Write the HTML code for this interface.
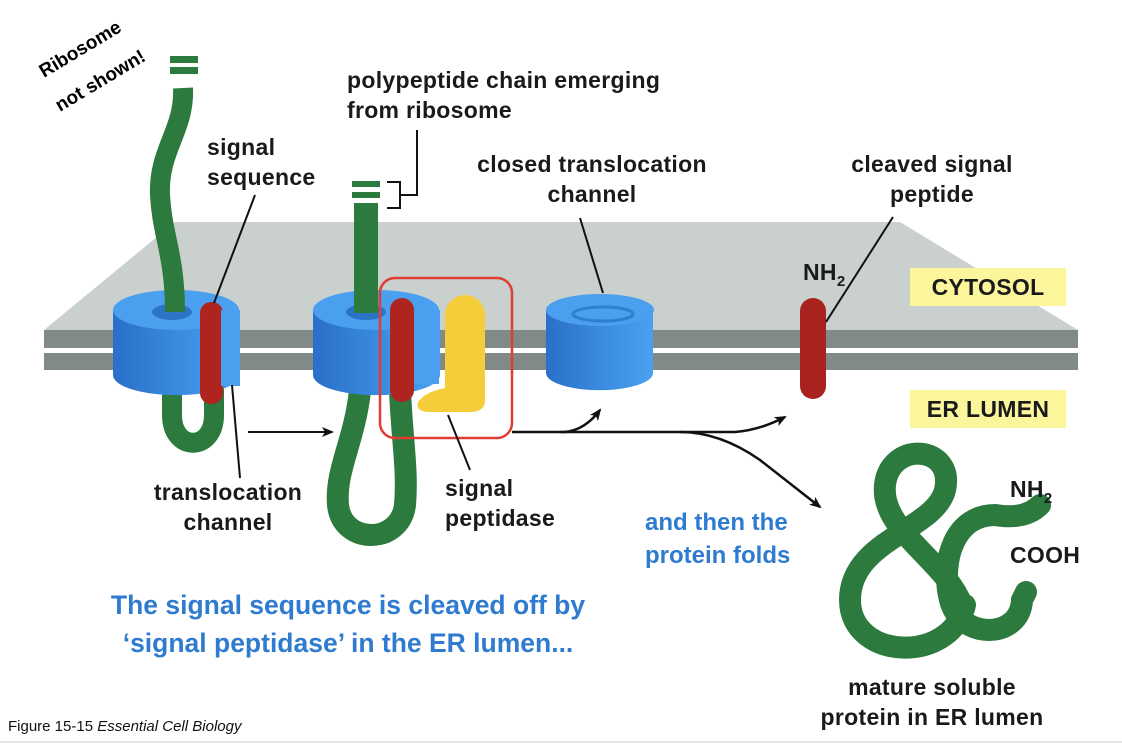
<!DOCTYPE html>
<html><head><meta charset="utf-8"><style>
body{margin:0;background:#fff;}
svg{display:block;font-family:"Liberation Sans",sans-serif;}
.l{font-weight:bold;font-size:23px;fill:#1a1a1a;letter-spacing:0.3px;}
.b{font-weight:bold;fill:#2f7bd0;}
</style></head><body>
<svg width="1122" height="744" viewBox="0 0 1122 744">
<defs>
<linearGradient id="bl" x1="0" x2="1"><stop offset="0" stop-color="#2a6fc8"/><stop offset="0.6" stop-color="#3d8fe3"/><stop offset="1" stop-color="#4aa0ee"/></linearGradient>
<marker id="ah" markerWidth="12" markerHeight="10" refX="10" refY="5" orient="auto" markerUnits="userSpaceOnUse"><path d="M0,0 L12,5 L0,10 L3,5z" fill="#111"/></marker>
</defs>
<!-- membrane -->
<polygon points="44,330 175,222 900,222 1078,330" fill="#c9d0cd"/>
<rect x="44" y="330" width="1034" height="18" fill="#828a88"/>
<rect x="44" y="353" width="1034" height="17" fill="#828a88"/>

<!-- chain 1 lower loop -->
<path d="M172,380 L172,415 C172,452 214,452 214,415 L214,385" stroke="#2d7a3e" stroke-width="20" fill="none"/>
<!-- channel 1 -->
<path d="M113,310 L113,375 A63,20 0 0 0 240,375 L240,310z" fill="url(#bl)"/>
<ellipse cx="176" cy="310" rx="63" ry="20" fill="#4aa0ee"/>
<ellipse cx="172" cy="312" rx="20" ry="8" fill="#2c74c8"/>
<!-- chain 1 upper -->
<path d="M183,88 C185,130 158,150 160,195 C162,235 175,255 175,312" stroke="#2d7a3e" stroke-width="20" fill="none"/>
<g fill="#2d7a3e"><rect x="170" y="56" width="28" height="7"/><rect x="170" y="67" width="28" height="7"/></g>
<rect x="200" y="302" width="23" height="102" rx="11" fill="#b0241f"/>
<rect x="221" y="310" width="19" height="76" fill="#4aa0ee"/>

<!-- chain 2 -->
<g fill="#2d7a3e"><rect x="352" y="181" width="28" height="6"/><rect x="352" y="192" width="28" height="6"/></g>
<path d="M360,390 C355,440 335,470 338,505 C342,545 400,545 405,505 C408,470 402,440 400,390" stroke="#2d7a3e" stroke-width="22" fill="none"/>
<!-- channel 2 -->
<path d="M313,310 L313,375 A63,20 0 0 0 440,375 L440,310z" fill="url(#bl)"/>
<ellipse cx="376" cy="310" rx="63" ry="20" fill="#4aa0ee"/>
<ellipse cx="366" cy="312" rx="20" ry="8" fill="#2c74c8"/>
<rect x="354" y="203" width="24" height="110" fill="#2d7a3e"/>
<rect x="390" y="298" width="24" height="104" rx="12" fill="#b0241f"/>
<rect x="414" y="312" width="25" height="72" fill="#4aa0ee"/>
<!-- yellow -->
<path d="M445,315 A20,20 0 0 1 485,315 L485,400 Q485,412 470,412 L430,412 Q415,412 418,402 Q425,392 445,388z" fill="#f5cd3a"/>
<rect x="380" y="278" width="132" height="160" rx="15" fill="none" stroke="#e03c32" stroke-width="2.5"/>

<!-- channel 3 -->
<path d="M546,310 L546,373 A53,17 0 0 0 653,373 L653,310z" fill="url(#bl)"/>
<ellipse cx="600" cy="310" rx="54" ry="16" fill="#4aa0ee"/>
<ellipse cx="603" cy="314" rx="30" ry="7" fill="none" stroke="#2f7ecf" stroke-width="3"/>
<!-- red 3 -->
<rect x="800" y="298" width="26" height="101" rx="13" fill="#a8231e"/>

<!-- leader lines -->
<g stroke="#111" stroke-width="2" fill="none">
<line x1="255" y1="195" x2="214" y2="303"/>
<line x1="232" y1="385" x2="240" y2="478"/>
<path d="M387,182 H400 V208 H387 M400,195 H417 V130"/>
<line x1="580" y1="218" x2="603" y2="293"/>
<line x1="448" y1="415" x2="470" y2="470"/>
<line x1="826" y1="322" x2="893" y2="217"/>
<line x1="248" y1="432" x2="332" y2="432" marker-end="url(#ah)"/>
<path d="M512,432 L565,432 Q585,430 600,410" marker-end="url(#ah)" stroke-width="2.5"/>
<path d="M560,432 L735,432 Q760,430 785,417" marker-end="url(#ah)" stroke-width="2.5"/>
<path d="M680,432 Q720,432 760,460 L820,507" marker-end="url(#ah)" stroke-width="2.5"/>
</g>

<!-- folded protein -->
<g stroke="#2d7a3e" stroke-width="22" fill="none" stroke-linecap="round">
<path d="M1040,505 Q1025,520 995,515 C955,515 940,560 950,600 C960,640 1020,640 1022,600 L1026,592"/>
<path d="M962,605 C945,560 880,530 885,485 C890,440 955,445 945,490 C935,530 850,540 850,600 C850,660 950,665 965,605"/>
</g>

<!-- boxes -->
<rect x="910" y="268" width="156" height="38" fill="#fbf59c"/>
<text x="988" y="295" class="l" text-anchor="middle">CYTOSOL</text>
<rect x="910" y="390" width="156" height="38" fill="#fbf59c"/>
<text x="988" y="417" class="l" text-anchor="middle">ER LUMEN</text>

<!-- labels -->
<text transform="translate(44,78) rotate(-31)" style="font-weight:bold;font-size:19px">Ribosome</text>
<text transform="translate(60,112) rotate(-31)" style="font-weight:bold;font-size:19px">not shown!</text>
<text x="207" y="155" class="l">signal</text>
<text x="207" y="185" class="l">sequence</text>
<text x="347" y="88" class="l">polypeptide chain emerging</text>
<text x="347" y="118" class="l">from ribosome</text>
<text x="592" y="172" class="l" text-anchor="middle">closed translocation</text>
<text x="592" y="202" class="l" text-anchor="middle">channel</text>
<text x="932" y="172" class="l" text-anchor="middle">cleaved signal</text>
<text x="932" y="202" class="l" text-anchor="middle">peptide</text>
<text x="803" y="280" class="l">NH<tspan dy="6" font-size="15">2</tspan></text>
<text x="228" y="500" class="l" text-anchor="middle">translocation</text>
<text x="228" y="530" class="l" text-anchor="middle">channel</text>
<text x="445" y="496" class="l">signal</text>
<text x="445" y="526" class="l">peptidase</text>
<text x="645" y="530" class="b" font-size="24">and then the</text>
<text x="645" y="563" class="b" font-size="24">protein folds</text>
<text x="348" y="614" class="b" font-size="26.5" text-anchor="middle">The signal sequence is cleaved off by</text>
<text x="348" y="652" class="b" font-size="26.5" text-anchor="middle">‘signal peptidase’ in the ER lumen...</text>
<text x="1010" y="497" class="l">NH<tspan dy="6" font-size="15">2</tspan></text>
<text x="1010" y="563" class="l">COOH</text>
<text x="932" y="695" class="l" text-anchor="middle">mature soluble</text>
<text x="932" y="725" class="l" text-anchor="middle">protein in ER lumen</text>
<text x="8" y="731" font-size="15" fill="#111">Figure 15-15 <tspan font-style="italic">Essential Cell Biology</tspan></text>
<line x1="0" y1="742" x2="1122" y2="742" stroke="#ccc"/>
</svg>
</body></html>
